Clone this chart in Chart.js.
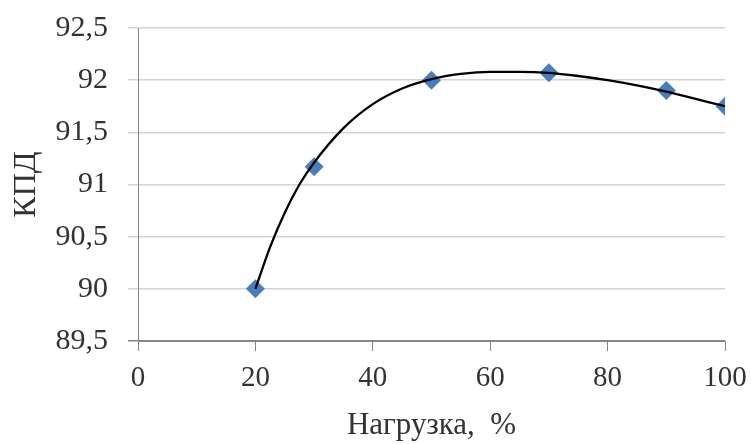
<!DOCTYPE html>
<html>
<head>
<meta charset="utf-8">
<script src="https://cdn.jsdelivr.net/npm/chart.js@4.4.1/dist/chart.umd.min.js"></script>
<style>
  html, body { margin: 0; padding: 0; background: #fff; }
  #wrap { width: 751px; height: 444px; }
</style>
</head>
<body>
<div id="wrap"><canvas id="myChart"></canvas></div>
<script>
// measured points
const loads = [20, 30, 50, 70, 90, 100];
const efficiency = [90.0, 91.17, 92.0, 92.07, 91.9, 91.75];

// trend line
const trendLoads = [20, 22.5, 25, 27.5, 30, 35, 40, 45, 50, 55, 60, 65, 70, 75, 80, 85, 90, 95, 100];
const trendValues = [90.0, 90.40, 90.73, 91.0, 91.21, 91.54, 91.77, 91.92, 92.01, 92.06, 92.08, 92.08, 92.07, 92.04, 92.0, 91.95, 91.89, 91.82, 91.75];

const xTicks = [0, 20, 40, 60, 80, 100];
const yTicks = [89.5, 90, 90.5, 91, 91.5, 92, 92.5];

const serif = 'Liberation Serif';
const textColor = '#333333';
const gridColor = '#d4d4d4';
const axisColor = '#868686';

const points = loads.map((x, i) => ({ x: x, y: efficiency[i] }));
const trend = trendLoads.map((x, i) => ({ x: x, y: trendValues[i] }));

const config = {
  type: 'scatter',
  data: {
    datasets: [
      {
        label: 'trend',
        data: trend,
        showLine: true,
        borderColor: '#000000',
        borderWidth: 2.3,
        pointRadius: 0,
        cubicInterpolationMode: 'monotone',
        order: 0
      },
      {
        label: 'КПД',
        data: points,
        pointStyle: 'rectRot',
        pointRadius: 9.5,
        backgroundColor: '#4a7ebb',
        borderColor: '#4a7ebb',
        borderWidth: 0,
        order: 1
      }
    ]
  },
  options: {
    responsive: true,
    maintainAspectRatio: false,
    animation: false,
    layout: { padding: { top: 28, right: 26, left: 0, bottom: 0 } },
    plugins: { legend: { display: false }, tooltip: { enabled: false } },
    scales: {
      x: {
        type: 'linear',
        min: 0,
        max: 100,
        afterBuildTicks: (s) => { s.ticks = xTicks.map(v => ({ value: v })); },
        afterFit: (s) => { s.height = 103; s.paddingLeft = 0; s.paddingRight = 0; },
        grid: { drawOnChartArea: false, drawTicks: true, tickLength: 10, color: axisColor },
        border: { color: axisColor, width: 1 },
        ticks: { font: { family: serif, size: 29 }, color: textColor, padding: 10, maxRotation: 0 },
        title: {
          display: true,
          text: 'Нагрузка,  %',
          font: { family: serif, size: 31 },
          color: textColor,
          padding: 0
        }
      },
      y: {
        min: 89.5,
        max: 92.5,
        afterBuildTicks: (s) => { s.ticks = yTicks.map(v => ({ value: v })); },
        afterFit: (s) => { s.width = 138; s.paddingTop = 0; s.paddingBottom = 0; },
        grid: {
          color: (c) => (c.tick && c.tick.value === 89.5 ? axisColor : gridColor),
          lineWidth: 1.5,
          drawTicks: true,
          tickLength: 10
        },
        border: { color: axisColor, width: 1 },
        ticks: {
          font: { family: serif, size: 30 },
          color: textColor,
          padding: 20,
          callback: (v) => String(v).replace('.', ',')
        },
        title: {
          display: true,
          text: 'КПД',
          font: { family: serif, size: 32 },
          color: textColor,
          padding: 7
        }
      }
    }
  }
};

new Chart(document.getElementById('myChart'), config);
</script>
</body>
</html>
